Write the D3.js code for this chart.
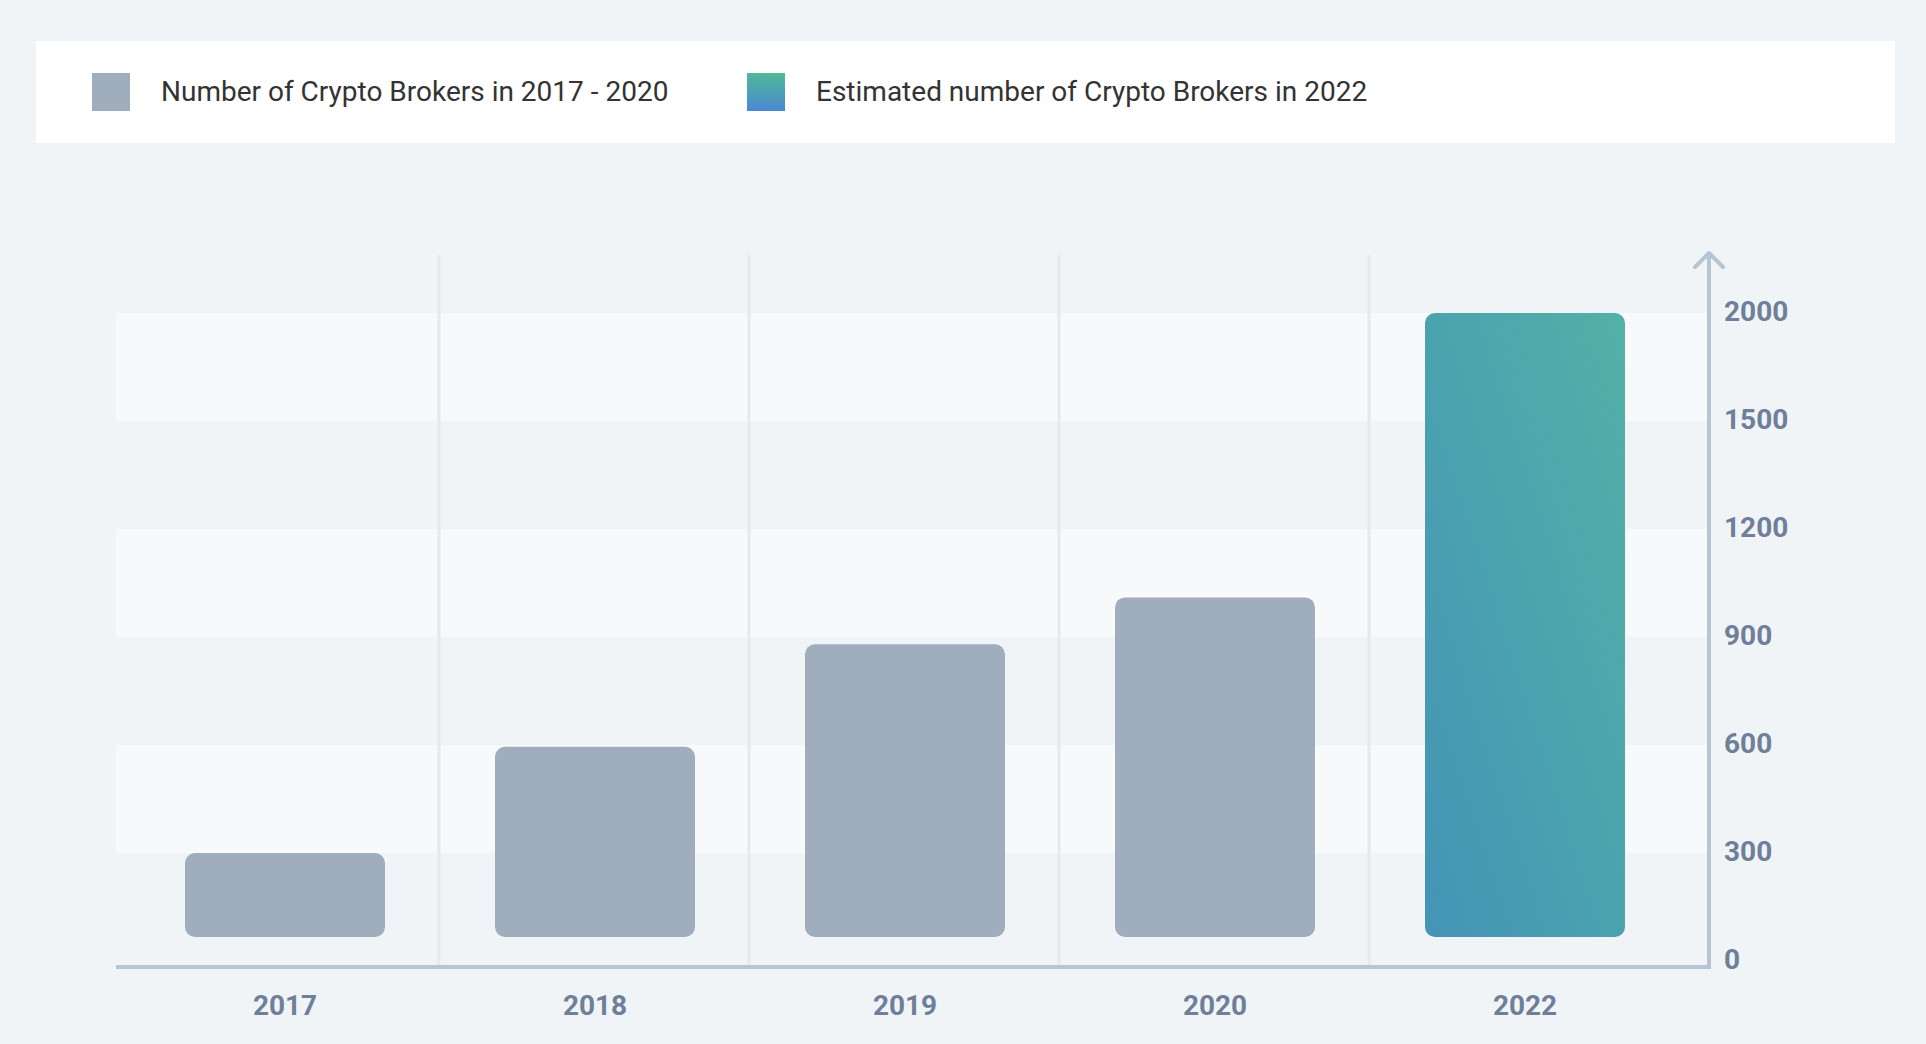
<!DOCTYPE html>
<html>
<head>
<meta charset="utf-8">
<script src="https://cdn.jsdelivr.net/npm/d3@7"></script>
<style>
  html, body { margin: 0; padding: 0; background: #f0f4f7; }
  svg { display: block; font-family: Roboto, "Noto Sans", sans-serif; }
  .legend-text { font-family: Roboto, "Noto Sans", sans-serif; font-size: 28px; fill: #333; }
  .tick-label { font-family: Roboto, "Noto Sans", sans-serif; font-size: 28px; font-weight: 700; fill: #6f7f99; }
</style>
</head>
<body>
<div id="chart"></div>
<script>
const years = ['2017', '2018', '2019', '2020', '2022'];
const brokers = [300, 595, 880, 1010, 2000];
const estimated = [false, false, false, false, true];
const yTicks = [0, 300, 600, 900, 1200, 1500, 2000];
const legendLabels = ['Number of Crypto Brokers in 2017 - 2020', 'Estimated number of Crypto Brokers in 2022'];

const W = 1926, H = 1044;
const PLOT = { left: 116, right: 1709, top: 255, zero: 961, step: 108 };
const BAR_GAP = 24;

const svg = d3.select('#chart').append('svg')
  .attr('width', W).attr('height', H)
  .attr('viewBox', `0 0 ${W} ${H}`);

const defs = svg.append('defs');
const barGrad = defs.append('linearGradient').attr('id', 'barGrad')
  .attr('x1', 0).attr('y1', 1).attr('x2', 1).attr('y2', 0);
barGrad.append('stop').attr('offset', '0%').attr('stop-color', '#4494b6');
barGrad.append('stop').attr('offset', '100%').attr('stop-color', '#52b1a7');
const legGrad = defs.append('linearGradient').attr('id', 'legGrad')
  .attr('x1', 0).attr('y1', 0).attr('x2', 0).attr('y2', 1);
legGrad.append('stop').attr('offset', '0%').attr('stop-color', '#50b998');
legGrad.append('stop').attr('offset', '100%').attr('stop-color', '#4a88d2');

svg.append('rect').attr('width', W).attr('height', H).attr('fill', '#f0f4f7');

// legend panel
svg.append('rect').attr('x', 36).attr('y', 41).attr('width', 1859).attr('height', 102).attr('fill', '#fff');
const legendX = [92, 747];
const leg = svg.append('g').selectAll('g').data(legendLabels).join('g')
  .attr('transform', (d, i) => `translate(${legendX[i]},73)`);
leg.append('rect').attr('width', 38).attr('height', 38)
  .attr('fill', (d, i) => i === 0 ? '#9fadbc' : 'url(#legGrad)');
leg.append('text').attr('class', 'legend-text')
  .attr('x', 69).attr('y', 18).attr('dy', '0.35em')
  .text((d) => d);

// scales: the y axis uses evenly spaced ticks, so it is piecewise linear
const y = d3.scaleLinear()
  .domain(yTicks)
  .range(yTicks.map((d, i) => PLOT.zero - i * PLOT.step));
const x = d3.scaleBand().domain(years)
  .range([130, 1680]).paddingInner(110 / 310).paddingOuter(55 / 310);

// alternating stripes
const stripes = d3.pairs(yTicks).filter((p, i) => i % 2 === 1);
svg.append('g').selectAll('rect').data(stripes).join('rect')
  .attr('x', PLOT.left).attr('width', PLOT.right - PLOT.left)
  .attr('y', (p) => y(p[1])).attr('height', (p) => y(p[0]) - y(p[1]))
  .attr('fill', '#f8f9fb');

// vertical dividers between categories
const divX = (d) => x(d) - x.step() * x.paddingInner() / 2 - 1;
svg.append('g').selectAll('line').data(years.slice(1)).join('line')
  .attr('x1', divX).attr('x2', divX)
  .attr('y1', PLOT.top).attr('y2', PLOT.zero + 6)
  .attr('stroke', '#e5e9ef').attr('stroke-width', 3);

// bars
const bars = years.map((yr, i) => ({ yr, v: brokers[i], est: estimated[i] }));
svg.append('g').selectAll('path').data(bars).join('path')
  .attr('d', (b) => {
    const x0 = x(b.yr), w = x.bandwidth();
    const top = y(b.v), bottom = y(0) - BAR_GAP, r = 10;
    const p = d3.path();
    p.moveTo(x0 + r, top);
    p.lineTo(x0 + w - r, top);
    p.arcTo(x0 + w, top, x0 + w, top + r, r);
    p.lineTo(x0 + w, bottom - r);
    p.arcTo(x0 + w, bottom, x0 + w - r, bottom, r);
    p.lineTo(x0 + r, bottom);
    p.arcTo(x0, bottom, x0, bottom - r, r);
    p.lineTo(x0, top + r);
    p.arcTo(x0, top, x0 + r, top, r);
    p.closePath();
    return p.toString();
  })
  .attr('fill', (b) => b.est ? 'url(#barGrad)' : '#9fadbc');

// axes
const axisColor = '#b6c5d4';
svg.append('line').attr('x1', PLOT.left).attr('x2', PLOT.right + 2)
  .attr('y1', PLOT.zero + 6).attr('y2', PLOT.zero + 6)
  .attr('stroke', axisColor).attr('stroke-width', 4);
svg.append('line').attr('x1', PLOT.right).attr('x2', PLOT.right)
  .attr('y1', 254).attr('y2', PLOT.zero + 8)
  .attr('stroke', axisColor).attr('stroke-width', 4);
svg.append('path')
  .attr('d', `M${PLOT.right - 14},267 L${PLOT.right},253 L${PLOT.right + 14},267`)
  .attr('fill', 'none').attr('stroke', axisColor).attr('stroke-width', 4)
  .attr('stroke-linecap', 'round').attr('stroke-linejoin', 'round');

const yAxis = svg.append('g').attr('transform', `translate(${PLOT.right},0)`)
  .call(d3.axisRight(y).tickValues(yTicks).tickFormat(d3.format('d')).tickSize(0).tickPadding(15));
yAxis.select('.domain').remove();
yAxis.selectAll('text').attr('class', 'tick-label').attr('fill', null)
  .attr('dy', '0.28em');

const xAxis = svg.append('g').attr('transform', `translate(0,${PLOT.zero + 6})`)
  .call(d3.axisBottom(x).tickSize(0).tickPadding(38));
xAxis.select('.domain').remove();
xAxis.selectAll('text').attr('class', 'tick-label').attr('fill', null)
  .attr('dy', '0.35em');
</script>
</body>
</html>
